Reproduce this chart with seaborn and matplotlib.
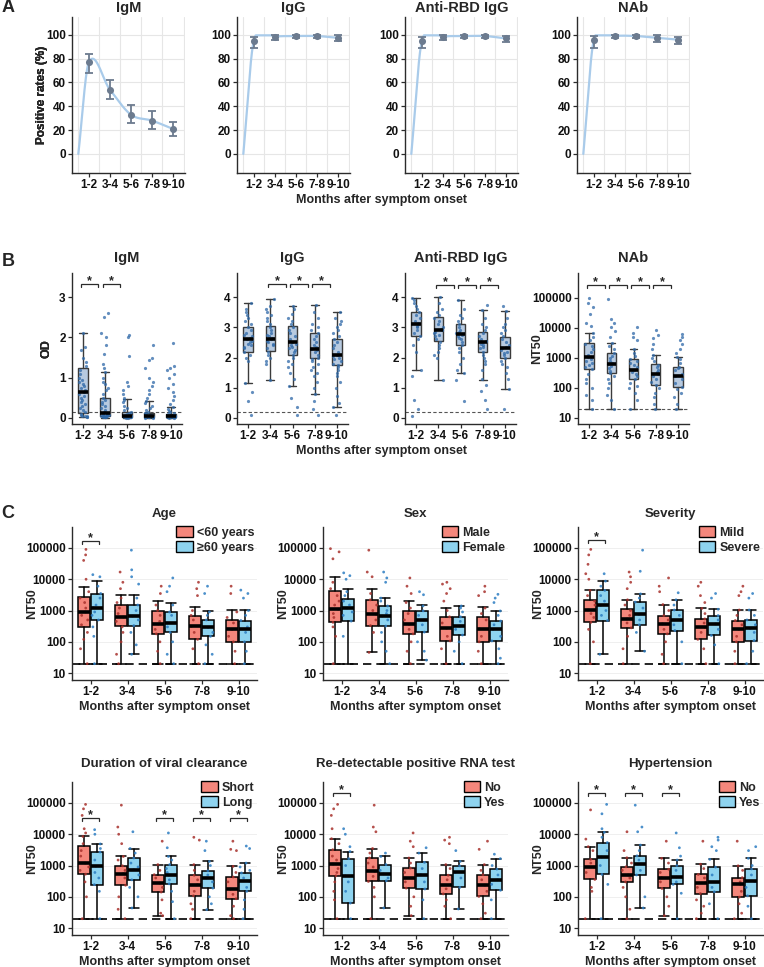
import numpy as np
import pandas as pd
import matplotlib
matplotlib.use("Agg")
import matplotlib.pyplot as plt
from matplotlib.colors import to_rgba
from matplotlib.patches import Patch
import seaborn as sns

# ---------------- data ----------------
MONTHS = ["1-2", "3-4", "5-6", "7-8", "9-10"]
ONSET_RATE = 0

IGM_RATE = [77, 54, 33, 28, 21]
IGM_LO = [68, 46, 26, 21, 15]
IGM_HI = [84, 62, 41, 36, 27]
IGG_RATE = [95, 98.5, 99, 99, 97.5]
IGG_LO = [89, 96, 97, 97, 95]
IGG_HI = [98, 100, 100, 100, 99.5]
RBD_RATE = [94.5, 98.5, 99, 99, 97]
RBD_LO = [89, 96, 97, 97, 94]
RBD_HI = [98, 100, 100, 100, 99]
NAB_RATE = [95.5, 99, 99, 97.5, 96]
NAB_LO = [89, 97, 97, 94, 92]
NAB_HI = [99, 100, 100, 99.5, 98.5]

# box stats: (whisker low, Q1, median, Q3, whisker high)
B_IGM_BOX = [(0.02, 0.12, 0.65, 1.25, 2.1), (0.01, 0.05, 0.12, 0.5, 1.15),
             (0.01, 0.03, 0.06, 0.15, 0.48), (0.01, 0.03, 0.05, 0.12, 0.42),
             (0.01, 0.02, 0.04, 0.1, 0.27)]
B_IGG_BOX = [(1.15, 2.2, 2.6, 3.0, 3.8), (1.25, 2.22, 2.62, 3.05, 3.95),
             (1.05, 2.1, 2.52, 3.05, 3.7), (0.8, 1.97, 2.28, 2.8, 3.75),
             (0.35, 1.77, 2.08, 2.63, 3.5)]
B_RBD_BOX = [(1.6, 2.7, 3.1, 3.52, 3.97), (1.25, 2.55, 2.9, 3.33, 4.0),
             (1.5, 2.43, 2.77, 3.1, 3.92), (1.27, 2.2, 2.5, 2.83, 3.57),
             (0.97, 1.97, 2.3, 2.67, 3.53)]
B_NAB_BOX = [(20, 430, 1100, 3160, 6800), (20, 320, 630, 1470, 3200),
             (20, 200, 400, 930, 2000), (20, 126, 290, 630, 1300),
             (20, 110, 250, 500, 1080)]

B_IGM_DOTS = [
    [2.1, 1.75, 1.7, 1.5, 1.4, 1.3, 1.2, 1.1, 1.0, 0.95, 0.9, 0.85, 0.8, 0.75, 0.7, 0.65, 0.6, 0.55, 0.5, 0.45, 0.4, 0.35, 0.3, 0.25, 0.2, 0.15, 0.1, 0.08, 0.05, 0.03, 0.02, 0.04, 0.06],
    [2.6, 2.5, 2.12, 2.0, 1.8, 1.6, 1.35, 1.25, 1.15, 1.0, 0.9, 0.85, 0.75, 0.7, 0.6, 0.5, 0.45, 0.4, 0.35, 0.3, 0.25, 0.2, 0.15, 0.12, 0.1, 0.08, 0.06, 0.05, 0.04, 0.03, 0.02, 0.02, 0.03, 0.04, 0.05, 0.07, 0.09],
    [2.05, 2.0, 1.55, 0.9, 0.8, 0.7, 0.6, 0.5, 0.45, 0.4, 0.3, 0.25, 0.2, 0.15, 0.12, 0.1, 0.08, 0.07, 0.06, 0.05, 0.04, 0.04, 0.03, 0.03, 0.02, 0.02, 0.01, 0.01, 0.02, 0.03, 0.05, 0.06, 0.08],
    [1.82, 1.5, 1.45, 1.25, 1.0, 0.9, 0.8, 0.7, 0.6, 0.5, 0.42, 0.38, 0.3, 0.25, 0.2, 0.15, 0.12, 0.1, 0.08, 0.07, 0.06, 0.05, 0.04, 0.03, 0.03, 0.02, 0.02, 0.01, 0.01, 0.02, 0.04, 0.05, 0.06],
    [1.87, 1.3, 1.25, 1.2, 1.1, 1.0, 0.85, 0.75, 0.65, 0.55, 0.45, 0.35, 0.27, 0.22, 0.18, 0.15, 0.12, 0.1, 0.08, 0.07, 0.06, 0.05, 0.04, 0.04, 0.03, 0.03, 0.02, 0.02, 0.01, 0.01, 0.02, 0.03, 0.05, 0.06]]
B_IGG_DOTS = [
    [3.8, 3.6, 3.5, 3.4, 3.3, 3.2, 3.1, 3.0, 2.9, 2.8, 2.7, 2.65, 2.6, 2.55, 2.5, 2.4, 2.3, 2.2, 2.1, 2.0, 1.9, 1.15, 0.85, 0.55, 0.1, 2.75, 2.45, 2.35],
    [3.95, 3.7, 3.6, 3.5, 3.4, 3.3, 3.2, 3.1, 3.0, 2.9, 2.8, 2.7, 2.62, 2.55, 2.5, 2.4, 2.3, 2.2, 2.1, 2.0, 1.9, 1.8, 1.25, 2.75, 2.65, 2.45],
    [3.7, 3.6, 3.45, 3.3, 3.2, 3.1, 3.0, 2.9, 2.8, 2.7, 2.6, 2.52, 2.45, 2.4, 2.3, 2.2, 2.1, 2.0, 1.9, 1.8, 1.7, 1.5, 1.3, 1.05, 0.65, 0.35, 0.1, 2.35, 2.25],
    [3.75, 3.5, 3.3, 3.1, 3.0, 2.9, 2.8, 2.7, 2.6, 2.5, 2.4, 2.3, 2.28, 2.2, 2.1, 2.0, 1.95, 1.9, 1.8, 1.7, 1.6, 1.5, 1.4, 1.2, 1.0, 0.8, 0.55, 0.3, 0.1, 2.35, 2.25],
    [3.5, 3.3, 3.2, 3.1, 3.0, 2.9, 2.8, 2.7, 2.6, 2.5, 2.4, 2.3, 2.2, 2.1, 2.08, 2.0, 1.9, 1.8, 1.75, 1.7, 1.6, 1.5, 1.4, 1.2, 1.0, 0.73, 0.5, 0.35, 0.1, 2.05, 1.95]]
B_RBD_DOTS = [
    [3.97, 3.9, 3.8, 3.7, 3.6, 3.5, 3.4, 3.3, 3.2, 3.1, 3.0, 2.9, 2.8, 2.7, 2.6, 2.4, 2.2, 1.6, 1.4, 0.6, 0.3, 0.05, 3.15, 3.05],
    [4.0, 3.8, 3.6, 3.5, 3.4, 3.3, 3.2, 3.1, 3.0, 2.9, 2.85, 2.8, 2.7, 2.6, 2.5, 2.4, 2.3, 2.2, 2.1, 2.0, 1.25, 2.95, 2.75],
    [3.92, 3.6, 3.4, 3.3, 3.2, 3.1, 3.0, 2.9, 2.8, 2.75, 2.7, 2.6, 2.5, 2.4, 2.3, 2.2, 2.0, 1.8, 1.6, 1.5, 1.25, 0.55, 2.85, 2.65],
    [3.75, 3.57, 3.3, 3.1, 3.0, 2.9, 2.8, 2.7, 2.6, 2.5, 2.45, 2.4, 2.3, 2.2, 2.1, 2.0, 1.9, 1.8, 1.6, 1.28, 1.1, 0.9, 0.6, 0.3, 2.55, 2.35],
    [3.7, 3.53, 3.3, 3.1, 3.0, 2.9, 2.8, 2.7, 2.6, 2.5, 2.4, 2.3, 2.25, 2.2, 2.1, 2.0, 1.9, 1.8, 1.7, 1.5, 1.3, 0.95, 0.3, 2.35, 2.15]]
B_NAB_DOTS = [
    [100000, 70000, 50000, 30000, 15000, 12000, 6800, 5000, 4000, 3000, 2500, 2000, 1600, 1300, 1100, 900, 800, 700, 600, 500, 430, 300, 200, 150, 100, 60, 40, 20],
    [90000, 20000, 15000, 11000, 8000, 5000, 3200, 2500, 2000, 1500, 1200, 1000, 800, 700, 630, 550, 450, 380, 320, 250, 200, 150, 100, 60, 40, 20],
    [11000, 7000, 5000, 4000, 2000, 1500, 1200, 900, 800, 700, 600, 500, 400, 350, 300, 250, 200, 150, 120, 100, 70, 40, 20],
    [8500, 6000, 4500, 3000, 2000, 1300, 1000, 800, 600, 500, 400, 350, 290, 250, 200, 160, 126, 100, 70, 50, 30, 20],
    [6500, 5000, 4000, 3000, 2000, 1500, 1080, 900, 700, 500, 450, 400, 300, 250, 200, 150, 110, 90, 70, 50, 30, 20]]
B_SIG = {"IgM": [0, 1], "IgG": [1, 2, 3], "Anti-RBD IgG": [1, 2, 3], "NAb": [0, 1, 2, 3]}

# Panel C (NT50) box stats and dots per subgroup
AGE_LABELS = ["<60 years", "\u226560 years"]
AGE_A = [(20, 300, 900, 2700, 5500), (20, 330, 620, 1500, 3200), (20, 180, 370, 1000, 2000), (20, 120, 310, 660, 1300), (20, 100, 250, 510, 1050)]
AGE_B = [(20, 500, 1250, 3500, 8700), (40, 330, 660, 1500, 3200), (20, 200, 400, 890, 1700), (20, 150, 290, 500, 1000), (20, 100, 260, 480, 1050)]
AGE_A_DOTS = [[90000, 60000, 40000, 10000, 4000, 2500, 1800, 1200, 900, 700, 500, 350, 200, 120, 60, 20], [17000, 8000, 5000, 2500, 1800, 1200, 800, 620, 450, 300, 200, 100, 40, 20], [6000, 3500, 1500, 1000, 700, 450, 370, 250, 180, 100, 50, 20], [8000, 5000, 3000, 1000, 700, 500, 310, 200, 120, 60, 20], [6000, 3500, 900, 600, 400, 250, 150, 100, 50, 20]]
AGE_B_DOTS = [[14000, 12000, 6000, 3500, 2500, 1500, 1250, 900, 700, 500, 300, 150, 20], [85000, 20000, 12000, 7000, 2500, 1500, 1000, 660, 500, 330, 200, 80, 40], [11000, 6000, 4000, 1500, 900, 700, 400, 300, 200, 100, 40, 20], [6000, 3500, 900, 700, 500, 290, 200, 150, 80, 40, 20], [4500, 3500, 2500, 1000, 700, 480, 300, 200, 100, 50, 20]]
AGE_SIG = [0]

SEX_LABELS = ["Male", "Female"]
SEX_A = [(20, 420, 1100, 4070, 11500), (46, 330, 760, 2200, 4800), (20, 180, 360, 980, 1950), (20, 107, 270, 630, 1180), (20, 100, 260, 630, 1260)]
SEX_B = [(20, 460, 1200, 2300, 4800), (20, 320, 660, 1400, 2600), (26, 205, 500, 980, 1500), (20, 165, 320, 630, 1400), (20, 107, 250, 460, 970)]
SEX_A_DOTS = [[95000, 75000, 45000, 8000, 5000, 3000, 2000, 1500, 1100, 800, 600, 420, 300, 150, 20], [85000, 17000, 12000, 3500, 2200, 1500, 1000, 760, 500, 330, 200, 46], [11000, 6000, 3500, 1800, 1200, 800, 500, 360, 250, 180, 100, 50, 20], [8000, 7000, 5000, 3500, 2000, 1000, 630, 400, 270, 150, 107, 60, 20], [6000, 4000, 3000, 1200, 800, 500, 260, 150, 100, 50, 20]]
SEX_B_DOTS = [[16000, 13000, 10000, 4000, 3000, 2000, 1500, 1200, 900, 700, 460, 150], [17000, 11000, 8000, 2500, 2000, 1400, 1000, 800, 660, 500, 320, 200, 100, 50, 20], [4000, 3200, 1400, 980, 700, 500, 350, 205, 100, 50, 26], [1400, 1200, 900, 630, 450, 320, 250, 165, 100, 50, 20], [3300, 2500, 1800, 970, 700, 460, 350, 250, 150, 107, 60, 30, 20]]
SEX_SIG = []

SEV_LABELS = ["Mild", "Severe"]
SEV_A = [(20, 420, 1040, 2100, 4400), (20, 280, 540, 1120, 2200), (20, 180, 375, 690, 1550), (20, 120, 290, 540, 1170), (20, 100, 250, 480, 1040)]
SEV_B = [(40, 480, 1450, 4400, 8700), (50, 350, 750, 1860, 3400), (20, 230, 500, 1040, 2200), (20, 160, 375, 690, 1100), (20, 110, 270, 500, 1040)]
SEV_A_DOTS = [[90000, 60000, 30000, 15000, 10000, 4400, 3000, 2000, 1500, 1040, 800, 600, 420, 250, 100, 20], [17000, 12000, 8000, 5000, 2200, 1500, 1000, 700, 540, 400, 280, 150, 60, 20], [11000, 6000, 4000, 1550, 1000, 690, 500, 375, 250, 180, 100, 40, 20], [8000, 6000, 3000, 1800, 1170, 800, 540, 400, 290, 200, 120, 60, 20], [6000, 4000, 3000, 1040, 700, 480, 350, 250, 150, 100, 50, 20]]
SEV_B_DOTS = [[15000, 8700, 6000, 4400, 3000, 2000, 1450, 1000, 700, 480, 40], [85000, 18000, 3400, 2500, 1860, 1200, 750, 500, 350, 200, 50], [3700, 2200, 1500, 1040, 700, 500, 350, 230, 100, 20], [3500, 2500, 1100, 690, 500, 375, 250, 160, 80, 20], [3500, 2500, 1040, 700, 500, 350, 270, 200, 110, 50, 20]]
SEV_SIG = [0]

DUR_LABELS = ["Short", "Long"]
DUR_A = [(20, 530, 1200, 4300, 8500), (20, 235, 550, 980, 1950), (25, 142, 275, 510, 1070), (20, 108, 245, 490, 1070), (20, 87, 176, 430, 940)]
DUR_B = [(20, 245, 950, 2700, 4900), (44, 350, 740, 1740, 3500), (20, 260, 490, 1070, 1950), (39, 190, 400, 680, 1350), (20, 150, 310, 580, 1200)]
DUR_A_DOTS = [[90000, 65000, 40000, 15000, 11000, 8500, 5000, 3000, 2000, 1200, 900, 700, 530, 300, 100, 20], [85000, 17000, 10000, 5000, 1950, 1500, 980, 700, 550, 400, 235, 100, 40, 20], [6000, 1070, 700, 510, 400, 275, 200, 142, 80, 30, 25], [8000, 6500, 1070, 700, 490, 350, 245, 150, 108, 60, 40, 20], [6000, 3300, 3000, 940, 600, 430, 300, 176, 120, 87, 50, 25, 20]]
DUR_B_DOTS = [[14000, 10000, 4900, 3500, 2700, 1500, 950, 600, 400, 245, 150, 20], [12000, 3500, 2500, 1740, 1200, 900, 740, 500, 350, 200, 100, 44], [11000, 3700, 1950, 1500, 1070, 800, 600, 490, 350, 260, 150, 70, 20], [6000, 3000, 1350, 1000, 680, 500, 400, 300, 190, 100, 60, 39], [4200, 3500, 1200, 900, 700, 580, 400, 310, 200, 150, 80, 40, 20]]
DUR_SIG = [0, 2, 3, 4]

RED_LABELS = ["No", "Yes"]
RED_A = [(20, 470, 1120, 3200, 7200), (20, 310, 650, 1740, 3500), (25, 190, 400, 830, 1740), (20, 124, 245, 490, 1070), (20, 103, 235, 510, 1070)]
RED_B = [(20, 63, 470, 1660, 2800), (44, 325, 540, 1070, 1950), (20, 178, 510, 1260, 2500), (41, 200, 600, 980, 1350), (20, 162, 350, 770, 1660)]
RED_A_DOTS = [[90000, 65000, 40000, 15000, 7200, 5000, 3200, 2000, 1500, 1120, 800, 600, 470, 300, 150, 80, 20], [85000, 17000, 12000, 3500, 2500, 1740, 1200, 900, 650, 450, 310, 200, 100, 20], [11000, 6000, 4000, 1740, 1200, 830, 600, 400, 300, 190, 100, 50, 25], [8000, 6500, 5000, 1070, 800, 490, 350, 245, 180, 124, 80, 50, 20], [6000, 3300, 1070, 700, 510, 350, 235, 150, 103, 60, 30, 20]]
RED_B_DOTS = [[15000, 10000, 4000, 2800, 1660, 1000, 470, 300, 150, 63, 20], [2500, 1950, 1070, 700, 540, 400, 325, 44], [3700, 2500, 1260, 800, 510, 300, 178, 80, 20], [3000, 1350, 980, 600, 400, 200, 41], [2300, 1660, 1000, 770, 500, 350, 250, 162, 80, 20]]
RED_SIG = [0]

HYP_LABELS = ["No", "Yes"]
HYP_A = [(20, 360, 890, 1580, 4000), (20, 300, 500, 910, 1770), (25, 185, 410, 760, 1700), (20, 127, 285, 520, 1100), (20, 98, 250, 410, 980)]
HYP_B = [(20, 520, 1870, 5400, 11500), (44, 500, 1100, 2040, 4500), (20, 250, 430, 1000, 1500), (20, 145, 300, 890, 1580), (20, 108, 310, 780, 1700)]
HYP_A_DOTS = [[60000, 7000, 4000, 3000, 1580, 1200, 890, 600, 360, 200, 150, 20], [12000, 3000, 1770, 1200, 910, 700, 500, 400, 300, 200, 100, 40, 20], [6000, 1700, 1200, 760, 600, 410, 300, 185, 100, 50, 25], [6000, 1100, 800, 520, 400, 285, 200, 127, 80, 50, 30, 20], [6000, 980, 700, 410, 300, 250, 150, 98, 60, 30, 20]]
HYP_B_DOTS = [[90000, 45000, 15000, 11500, 8000, 5400, 3000, 1870, 1000, 520, 250, 20], [85000, 17000, 12000, 4500, 3000, 2040, 1500, 1100, 700, 500, 100, 44], [11000, 3700, 2000, 1500, 1000, 700, 430, 300, 250, 130, 20], [8000, 6500, 4000, 3000, 1580, 890, 500, 300, 200, 145, 60, 20], [4000, 3000, 1700, 1000, 780, 500, 310, 200, 108, 50, 20]]
HYP_SIG = [0, 1, 2]

# ---------------- style ----------------
sns.set_theme(style="ticks")
plt.rcParams['font.family'] = ['Liberation Sans', 'DejaVu Sans']
plt.rcParams['font.weight'] = 'bold'
plt.rcParams['axes.labelweight'] = 'bold'
plt.rcParams['axes.titleweight'] = 'bold'
np.random.seed(3)

W, H = 764, 967
fig = plt.figure(figsize=(W / 100, H / 100), dpi=100)

LINE_A = "#A9CBEA"
PT_A = "#6C7B8F"
B_FILL = to_rgba("#9FB9D6", 0.75)
B_DOT = "#2F69A8"
C_FILL = [to_rgba("#F4877C"), to_rgba("#8ED3EF")]
C_DOT = ["#A8312C", "#2C7DC2"]
DARK = "#2b2b2b"


def px_axes(l, t, r, b):
    return fig.add_axes([l / W, 1 - b / H, (r - l) / W, (b - t) / H])


def ftext(x, y, s, size=9, **kw):
    fig.text(x / W, 1 - y / H, s, ha='center', va='center', fontsize=size,
             fontweight='bold', **kw)


def style_axes(ax, labelsize=8.5):
    for s in ("top", "right"):
        ax.spines[s].set_visible(False)
    for s in ("left", "bottom"):
        ax.spines[s].set_color(DARK)
        ax.spines[s].set_linewidth(1.0)
    ax.tick_params(axis='both', which='major', length=3, width=0.9, color=DARK,
                   labelsize=labelsize, pad=1.5, labelcolor='#111111')
    ax.tick_params(axis='both', which='minor', length=0)
    for lab in ax.get_xticklabels() + ax.get_yticklabels():
        lab.set_fontweight('bold')


def hermite_curve(xs, ys, n=40, cap=99.6):
    xs = np.asarray(xs, float)
    ys = np.asarray(ys, float)
    m = np.empty_like(ys)
    m[0] = (ys[1] - ys[0]) / (xs[1] - xs[0])
    m[-1] = (ys[-1] - ys[-2]) / (xs[-1] - xs[-2])
    m[1:-1] = (ys[2:] - ys[:-2]) / (xs[2:] - xs[:-2])
    X, Y = [], []
    t = np.linspace(0, 1, n)
    h00 = 2 * t**3 - 3 * t**2 + 1
    h10 = t**3 - 2 * t**2 + t
    h01 = -2 * t**3 + 3 * t**2
    h11 = t**3 - t**2
    for i in range(len(xs) - 1):
        h = xs[i + 1] - xs[i]
        X.append(xs[i] + t * h)
        Y.append(h00 * ys[i] + h10 * h * m[i] + h01 * ys[i + 1] + h11 * h * m[i + 1])
    return np.concatenate(X), np.minimum(np.concatenate(Y), cap)


def box_stats(boxes):
    return [dict(whislo=b[0], q1=b[1], med=b[2], q3=b[3], whishi=b[4], fliers=[])
            for b in boxes]


def draw_boxes(ax, boxes, positions, width, fill, edge, lw, medlw):
    ax.bxp(box_stats(boxes), positions=positions, widths=width,
           capwidths=width * 0.85, patch_artist=True, showfliers=False,
           manage_ticks=False,
           boxprops=dict(facecolor=fill, edgecolor=edge, linewidth=lw, zorder=2),
           whiskerprops=dict(color=edge, linewidth=lw, zorder=2),
           capprops=dict(color=edge, linewidth=lw, zorder=2),
           medianprops=dict(color='black', linewidth=medlw, solid_capstyle='butt',
                            zorder=4))


def bracket(ax, x0, x1, y, drop, log=False, lw=0.9, size=9):
    if log:
        ylow = 10 ** (np.log10(y) - drop)
    else:
        ylow = y - drop
    ax.plot([x0, x0, x1, x1], [ylow, y, y, ylow], color=DARK, lw=lw,
            clip_on=False, zorder=5, solid_joinstyle='miter')
    ax.annotate("*", xy=((x0 + x1) / 2, y), xytext=(0, -2.5), textcoords='offset points',
                ha='center', va='bottom', fontsize=size, fontweight='bold',
                annotation_clip=False)


# ---------------- Panel A ----------------
ftext(8, 8, "A", size=13)
A_SPECS = [("IgM", IGM_RATE, IGM_LO, IGM_HI, 72, 185),
           ("IgG", IGG_RATE, IGG_LO, IGG_HI, 237, 350),
           ("Anti-RBD IgG", RBD_RATE, RBD_LO, RBD_HI, 405, 518),
           ("NAb", NAB_RATE, NAB_LO, NAB_HI, 577, 690)]
pos_a = np.arange(1, 6)
for title, rate, lo, hi, l, r in A_SPECS:
    ax = px_axes(l, 17, r, 173)
    cx, cy = hermite_curve(np.r_[0.5, pos_a], np.r_[ONSET_RATE, rate])
    sns.lineplot(x=cx, y=cy, ax=ax, color=LINE_A, lw=1.6, zorder=2, sort=False)
    rate_a, lo_a, hi_a = np.array(rate), np.array(lo), np.array(hi)
    ax.errorbar(pos_a, rate_a, yerr=[rate_a - lo_a, hi_a - rate_a], fmt='none',
                ecolor=PT_A, elinewidth=1.3, capsize=3, capthick=1.3, zorder=3)
    sns.scatterplot(x=pos_a, y=rate_a, ax=ax, color=PT_A, s=26, linewidth=0, zorder=4)
    ax.set_xlim(0.2, 5.57)
    ax.set_ylim(-16, 115)
    ax.set_xticks(pos_a)
    ax.set_xticklabels(MONTHS)
    ax.set_xticks(np.arange(0.5, 6.0, 1.0), minor=True)
    ax.set_yticks([0, 20, 40, 60, 80, 100])
    ax.grid(which='minor', axis='x', color='#E6E6E6', lw=0.8)
    ax.grid(which='major', axis='y', color='#E6E6E6', lw=0.8)
    ax.set_axisbelow(True)
    ax.set_ylabel("Positive rates (%)", fontsize=8.5, fontweight='bold')
    ax.yaxis.set_label_coords((48 - l) / (r - l), 0.5)
    ax.set_xlabel("")
    style_axes(ax, labelsize=8.5)
    ftext((l + r) / 2, 8, title, size=10.5)
ftext(381, 200, "Months after symptom onset", size=9)

# ---------------- Panel B ----------------
ftext(8, 261, "B", size=13)
B_SPECS = [("IgM", B_IGM_BOX, B_IGM_DOTS, 72, 182, False, (-0.15, 3.6), [0, 1, 2, 3], 0.15, 3.33, 0.08, "OD"),
           ("IgG", B_IGG_BOX, B_IGG_DOTS, 237, 348, False, (-0.2, 4.8), [0, 1, 2, 3, 4], 0.2, 4.43, 0.1, "OD"),
           ("Anti-RBD IgG", B_RBD_BOX, B_RBD_DOTS, 405, 516, False, (-0.2, 4.8), [0, 1, 2, 3, 4], 0.2, 4.4, 0.1, "OD"),
           ("NAb", B_NAB_BOX, B_NAB_DOTS, 578, 689, True, (10 ** 0.8, 10 ** 5.83), [10, 100, 1000, 10000, 100000], 20, 10 ** 5.43, 0.1, "NT50")]
pos_b = np.arange(5)
for title, boxes, dots, l, r, logy, ylim, yt, thr, by, bd, ylab in B_SPECS:
    ax = px_axes(l, 273, r, 424)
    if logy:
        ax.set_yscale('log')
    draw_boxes(ax, boxes, pos_b, 0.42, B_FILL, "#3b3b3b", 1.0, 2.6)
    df = pd.DataFrame([(p, v) for p, vals in zip(pos_b, dots) for v in vals],
                      columns=["pos", "val"])
    sns.stripplot(data=df, x="pos", y="val", native_scale=True, orient="x",
                  jitter=0.2, size=2.3, color=B_DOT, alpha=0.75, linewidth=0,
                  ax=ax, zorder=3)
    ax.axhline(thr, color="#555555", lw=0.8, ls=(0, (3, 2)), zorder=1)
    for i in B_SIG[title]:
        bracket(ax, i - 0.1, i + 0.7, by, bd, log=logy)
    ax.set_xlim(-0.5, 4.5)
    ax.set_ylim(*ylim)
    ax.set_xticks(pos_b)
    ax.set_xticklabels(MONTHS)
    ax.set_yticks(yt)
    if logy:
        ax.set_yticklabels([str(v) for v in yt])
        ax.yaxis.set_minor_locator(matplotlib.ticker.NullLocator())
    ax.set_xlabel("")
    ax.set_ylabel(ylab, fontsize=9, fontweight='bold')
    ax.yaxis.set_label_coords((53 - l) / (r - l) if not logy else (543 - l) / (r - l), 0.5)
    style_axes(ax)
    ftext((l + r) / 2, 258, title, size=10.5)
ftext(381, 451, "Months after symptom onset", size=9)

# ---------------- Panel C ----------------
ftext(8, 513, "C", size=13)
C_SPECS = [
    ("Age", AGE_LABELS, AGE_A, AGE_B, AGE_A_DOTS, AGE_B_DOTS, AGE_SIG, 72, 527, 10 ** 5.22, 13),
    ("Sex", SEX_LABELS, SEX_A, SEX_B, SEX_A_DOTS, SEX_B_DOTS, SEX_SIG, 323, 527, 10 ** 5.22, 13),
    ("Severity", SEV_LABELS, SEV_A, SEV_B, SEV_A_DOTS, SEV_B_DOTS, SEV_SIG, 578, 527, 10 ** 5.25, 13),
    ("Duration of viral clearance", DUR_LABELS, DUR_A, DUR_B, DUR_A_DOTS, DUR_B_DOTS, DUR_SIG, 72, 782, 10 ** 4.52, 18),
    ("Re-detectable positive RNA test", RED_LABELS, RED_A, RED_B, RED_A_DOTS, RED_B_DOTS, RED_SIG, 323, 782, 10 ** 5.32, 18),
    ("Hypertension", HYP_LABELS, HYP_A, HYP_B, HYP_A_DOTS, HYP_B_DOTS, HYP_SIG, 578, 782, 10 ** 5.32, 18),
]
OFF = 0.175
BW = 0.31
yt_c = [10, 100, 1000, 10000, 100000]
for title, labels, boxA, boxB, dotsA, dotsB, sig, l, t, by, tgap in C_SPECS:
    r, b = l + 185, t + 153
    ax = px_axes(l, t, r, b)
    ax.set_yscale('log')
    ax.grid(which='major', axis='y', color='#EFEFEF', lw=0.7)
    ax.set_axisbelow(True)
    pa = pos_b - OFF
    pb = pos_b + OFF
    draw_boxes(ax, boxA, pa, BW, C_FILL[0], "black", 1.1, 2.6)
    draw_boxes(ax, boxB, pb, BW, C_FILL[1], "black", 1.1, 2.6)
    rows = [(p, v, labels[0]) for p, vals in zip(pa, dotsA) for v in vals]
    rows += [(p, v, labels[1]) for p, vals in zip(pb, dotsB) for v in vals]
    df = pd.DataFrame(rows, columns=["pos", "val", "grp"])
    sns.stripplot(data=df, x="pos", y="val", hue="grp", native_scale=True, orient="x",
                  palette={labels[0]: C_DOT[0], labels[1]: C_DOT[1]},
                  jitter=0.38, size=2.0, alpha=0.85, linewidth=0, legend=False,
                  ax=ax, zorder=3)
    ax.axhline(20, color="black", lw=1.2, ls=(0, (5, 3)), zorder=1, clip_on=False)
    for i in sig:
        bracket(ax, i - 0.23, i + 0.23, by, 0.09, log=True)
    ax.set_xlim(-0.5, 4.5)
    ax.set_ylim(10 ** 0.78, 10 ** 5.67)
    ax.set_xticks(pos_b)
    ax.set_xticklabels(MONTHS)
    ax.set_yticks(yt_c)
    ax.set_yticklabels([str(v) for v in yt_c])
    ax.yaxis.set_minor_locator(matplotlib.ticker.NullLocator())
    ax.set_xlabel("")
    ax.set_ylabel("NT50", fontsize=9, fontweight='bold')
    ax.yaxis.set_label_coords((38 - 72) / 185, 0.5)
    style_axes(ax)
    handles = [Patch(facecolor=C_FILL[0], edgecolor='black', lw=1.0),
               Patch(facecolor=C_FILL[1], edgecolor='black', lw=1.0)]
    ax.legend(handles, labels, loc='upper right', bbox_to_anchor=(1.0, 1.02),
              frameon=False, prop={'weight': 'bold', 'size': 9},
              handlelength=1.3, handleheight=0.9, handletextpad=0.35,
              labelspacing=0.2, borderaxespad=0.1, borderpad=0.1)
    ftext((l + r) / 2, t - tgap, title, size=9.5)
    ftext((l + r) / 2, b + 27, "Months after symptom onset", size=9)

fig.savefig("out.png", dpi=100)
